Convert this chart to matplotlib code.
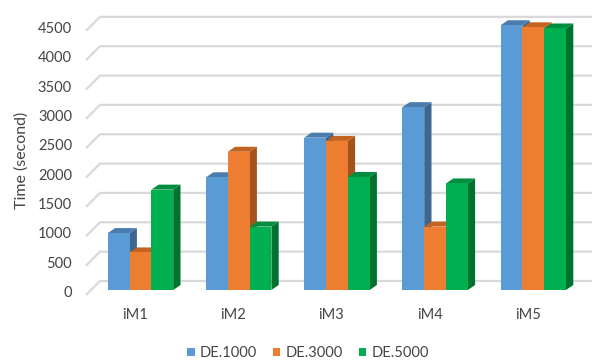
import matplotlib
matplotlib.use("Agg")
import matplotlib.pyplot as plt
from matplotlib.patches import Polygon, Patch

plt.rcParams['font.family'] = ['Lato', 'DejaVu Sans']

categories = ["iM1", "iM2", "iM3", "iM4", "iM5"]
series_names = ["DE.1000", "DE.3000", "DE.5000"]
de1000 = [970, 1920, 2595, 3115, 4510]
de3000 = [640, 2355, 2540, 1080, 4475]
de5000 = [1710, 1080, 1925, 1815, 4455]
y_ticks = [0, 500, 1000, 1500, 2000, 2500, 3000, 3500, 4000, 4500]

series = [de1000, de3000, de5000]
front_colors = ["#5B9BD5", "#ED7D31", "#00B050"]
top_colors = ["#4A7DAE", "#C4621F", "#008E3E"]
side_colors = ["#3D6690", "#A5531C", "#00722F"]
text_color = "#454545"
grid_color = "#D9D9D9"

W, H = 593, 363
fig = plt.figure(figsize=(W / 100, H / 100), dpi=100)
ax = fig.add_axes([0, 0, 1, 1])
ax.set_axis_off()

# scale: category units horizontally, data values vertically
px_per_cat = 98.2
x_origin = 140.5
px_per_val = 0.0587
y_origin = 290.0
ax.set_xlim(-x_origin / px_per_cat, (W - x_origin) / px_per_cat)
ax.set_ylim((y_origin - H) / px_per_val, y_origin / px_per_val)

bar_w = 21.8 / px_per_cat
depth_x = 7.3 / px_per_cat
depth_y = 5.0 / px_per_val

# back wall gridlines + floor/side diagonals
back_dy = 9.0 / px_per_val
front_dy = -5.0 / px_per_val
wall_left = (100 - x_origin) / px_per_cat
wall_front = (86 - x_origin) / px_per_cat
wall_right = (592 - x_origin) / px_per_cat
for g in y_ticks:
    ax.plot([wall_front, wall_left, wall_right],
            [g + front_dy, g + back_dy, g + back_dy],
            color=grid_color, lw=1.6, zorder=1, solid_capstyle='butt')
    ax.text((72 - x_origin) / px_per_cat, g - 3.0 / px_per_val, f"{g}",
            ha="right", va="center", fontsize=10.5, color=text_color)

# 3-D style bars: front face, top face, right side face
for ci in range(len(categories)):
    left0 = ci - 1.5 * bar_w
    for si, vals in enumerate(series):
        v = vals[ci]
        x0 = left0 + si * bar_w
        x1 = x0 + bar_w
        z = 2 + ci * 10 + si * 3
        side = Polygon([(x1, 0), (x1 + depth_x, depth_y),
                        (x1 + depth_x, v + depth_y), (x1, v)],
                       closed=True, facecolor=side_colors[si], edgecolor="none", zorder=z)
        top = Polygon([(x0, v), (x0 + depth_x, v + depth_y),
                       (x1 + depth_x, v + depth_y), (x1, v)],
                      closed=True, facecolor=top_colors[si], edgecolor="none", zorder=z + 1)
        front = Polygon([(x0, 0), (x1, 0), (x1, v), (x0, v)],
                        closed=True, facecolor=front_colors[si], edgecolor="none", zorder=z + 2)
        for p in (side, top, front):
            ax.add_patch(p)

# category labels along the front edge
for ci, name in enumerate(categories):
    ax.text(ci - 5.5 / px_per_cat, (y_origin - 315) / px_per_val, name,
            ha="center", va="center", fontsize=10.5, color=text_color)

ax.text((22 - x_origin) / px_per_cat, (y_origin - 160) / px_per_val, "Time (second)",
        rotation=90, ha="center", va="center", fontsize=11.5, color=text_color)

handles = [Patch(facecolor=c, edgecolor="none") for c in front_colors]
leg = fig.legend(handles, series_names, ncol=3, loc="center",
                 bbox_to_anchor=(308 / W, 1 - 353 / H), frameon=False,
                 handlelength=0.5, handleheight=0.5, handletextpad=0.35,
                 columnspacing=1.1, fontsize=10.5, labelcolor=text_color)

fig.savefig("out.png", dpi=100)
